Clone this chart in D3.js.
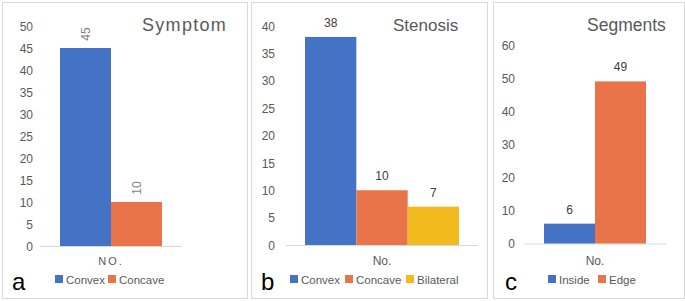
<!DOCTYPE html>
<html>
<head>
<meta charset="utf-8">
<script src="https://cdn.jsdelivr.net/npm/d3@7"></script>
<style>
body{margin:0;background:#fff;}
text{font-family:"Liberation Sans",Arial,sans-serif;}
</style>
</head>
<body>
<script>
// data
var symptomCats = ["Convex","Concave"];
var symptomVals = [45,10];
var symptomTicks = [0,5,10,15,20,25,30,35,40,45,50];

var stenosisCats = ["Convex","Concave","Bilateral"];
var stenosisVals = [38,10,7];
var stenosisTicks = [0,5,10,15,20,25,30,35,40];

var segmentCats = ["Inside","Edge"];
var segmentVals = [6,49];
var segmentTicks = [0,10,20,30,40,50,60];

var COLORS = {Convex:"#4472C4",Concave:"#E97449",Bilateral:"#F2BA1E",Inside:"#4472C4",Edge:"#E97449"};

var svg = d3.select("body").append("svg").attr("width",685).attr("height",301);

var drawPanel = function(p){
	var g = svg.append("g");
	g.append("rect").attr("x",p.box[0]+0.5).attr("y",2.5)
		.attr("width",p.box[1]-p.box[0]).attr("height",296)
		.attr("fill","#fff").attr("stroke","#d9d9d9");

	var y = d3.scaleLinear().domain([0,d3.max(p.ticks)]).range([p.y0,p.yTop]);
	var x = d3.scaleBand().domain(p.cats).range(p.bars).paddingInner(0);

	var ax = g.append("g").attr("transform","translate("+p.labelX+",0)")
		.call(d3.axisLeft(y).tickValues(p.ticks).tickSize(0).tickPadding(0));
	ax.select(".domain").remove();
	ax.selectAll("text").attr("font-size",12).attr("fill","#595959").attr("dy","0.35em");

	g.append("line").attr("x1",p.axis[0]).attr("x2",p.axis[1])
		.attr("y1",y(0)+0.5).attr("y2",y(0)+0.5).attr("stroke","#d9d9d9");

	g.selectAll(".bar").data(p.vals).enter().append("rect")
		.attr("x",function(d,i){return x(p.cats[i])})
		.attr("y",function(d){return y(d)})
		.attr("width",x.bandwidth())
		.attr("height",function(d){return y(0)-y(d)})
		.attr("fill",function(d,i){return COLORS[p.cats[i]]});

	g.selectAll(".val").data(p.vals).enter().append("text")
		.attr("font-size",12)
		.attr("fill",p.rotate ? "#7f7f7f" : "#404040")
		.attr("text-anchor","middle")
		.attr("transform",function(d,i){
			var cx = x(p.cats[i])+x.bandwidth()/2, cy = y(d)-10;
			return p.rotate ? "translate("+(cx+4)+","+(cy-4)+") rotate(-90)" : "translate("+cx+","+cy+")";
		})
		.text(function(d){return d});

	g.append("text").attr("x",p.titleX).attr("y",31).attr("font-size",p.titleSize||18)
		.attr("fill","#595959").attr("letter-spacing",p.titleSpacing||0).text(p.title);

	g.append("text").attr("x",(p.bars[0]+p.bars[1])/2).attr("y",265)
		.attr("text-anchor","middle").attr("font-size",p.catSize||12)
		.attr("letter-spacing",p.catSpacing||0).attr("fill","#595959").text(p.cat);

	var lg = g.selectAll(".lg").data(p.cats).enter().append("g")
		.attr("transform",function(d,i){return "translate("+p.legendX[i]+",275)"});
	lg.append("rect").attr("width",8).attr("height",8).attr("fill",function(d){return COLORS[d]});
	lg.append("text").attr("x",11).attr("y",8.5).attr("font-size",11.5).attr("fill","#595959").text(function(d){return d});

	g.append("text").attr("x",p.letterX).attr("y",290).attr("font-size",24).attr("fill","#000").text(p.letter);
};

drawPanel({box:[2,247],y0:246,yTop:26,ticks:symptomTicks,cats:symptomCats,vals:symptomVals,
	labelX:33,axis:[40,182],bars:[60,162],rotate:true,title:"Symptom",titleX:142,titleSpacing:1.3,
	cat:"NO.",catSize:11,catSpacing:2,legendX:[55,108],letter:"a",letterX:12});
drawPanel({box:[251,487],y0:245,yTop:26,ticks:stenosisTicks,cats:stenosisCats,vals:stenosisVals,
	labelX:275,axis:[286,478],bars:[305,459],title:"Stenosis",titleX:393,titleSize:17,
	cat:"No.",legendX:[290,345,406],letter:"b",letterX:261});
drawPanel({box:[493,684],y0:243.5,yTop:45,ticks:segmentTicks,cats:segmentCats,vals:segmentVals,
	labelX:515,axis:[524,666],bars:[544,646],title:"Segments",titleX:587,titleSize:17.5,
	cat:"No.",legendX:[548,598],letter:"c",letterX:505});
</script>
</body>
</html>
